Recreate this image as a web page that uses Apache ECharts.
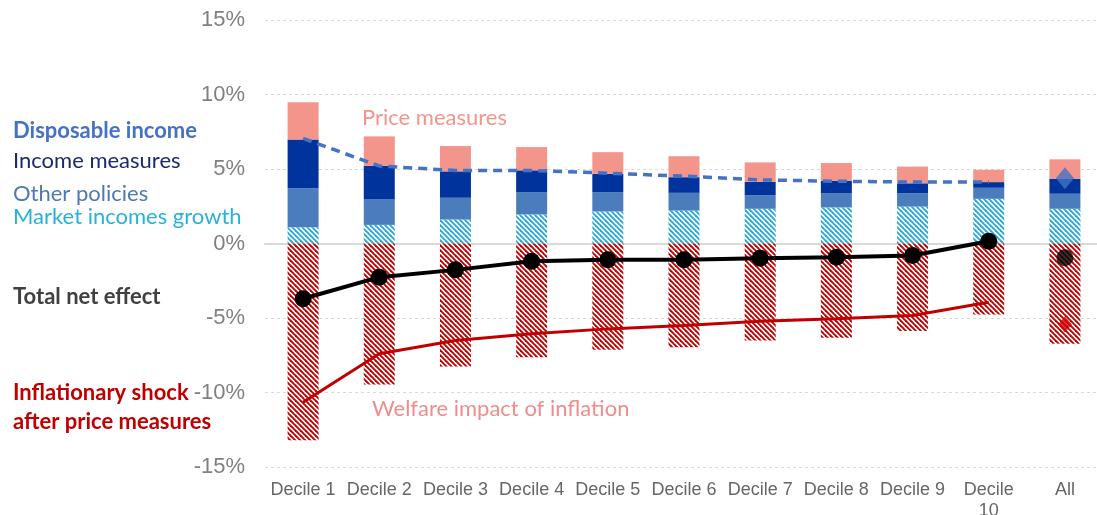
<!DOCTYPE html>
<html>
<head>
<meta charset="utf-8">
<script src="https://cdn.jsdelivr.net/npm/echarts@6/dist/echarts.min.js"></script>
<style>
html,body{margin:0;padding:0;background:#fff;}
#chart{width:1097px;height:515px;}
</style>
</head>
<body>
<div id="chart"></div>
<script>
// ---- data ----
var categories = ['Decile 1','Decile 2','Decile 3','Decile 4','Decile 5','Decile 6','Decile 7','Decile 8','Decile 9','Decile 10','All'];
var marketIncomes  = [1.09, 1.25, 1.61, 1.95, 2.15, 2.21, 2.33, 2.42, 2.48, 3.00, 2.33];
var otherPolicies  = [2.62, 1.74, 1.46, 1.50, 1.30, 1.19, 0.91, 0.94, 0.89, 0.74, 1.01];
var incomeMeasures = [3.27, 2.23, 1.77, 1.46, 1.23, 1.05, 0.90, 0.85, 0.67, 0.38, 1.01];
var priceMeasures  = [2.50, 1.97, 1.70, 1.56, 1.45, 1.41, 1.30, 1.19, 1.12, 0.83, 1.30];
var inflationShock = [-13.2, -9.46, -8.26, -7.63, -7.13, -6.96, -6.51, -6.33, -5.88, -4.77, -6.73];
var disposableIncome = [7.05, 5.20, 4.90, 4.90, 4.72, 4.52, 4.27, 4.18, 4.12, 4.12, 4.38];
var totalNetEffect   = [-3.71, -2.26, -1.77, -1.19, -1.09, -1.09, -0.99, -0.92, -0.81, 0.15, -0.96];
var welfareImpact    = [-10.65, -7.40, -6.51, -6.06, -5.73, -5.50, -5.21, -5.05, -4.83, -3.94, -5.44];
var yTicks = [-15, -10, -5, 0, 5, 10, 15];

// deciles (line) vs "All" (standalone marker)
function decilesOnly(arr){ return arr.map(function(v,i){ return i < arr.length-1 ? v : '-'; }); }
function allOnly(arr){ return arr.map(function(v,i){ return i === arr.length-1 ? v : '-'; }); }

function hatch(color){
  var s = 5, c = document.createElement('canvas');
  c.width = s; c.height = s;
  var g = c.getContext('2d');
  g.fillStyle = '#ffffff'; g.fillRect(0,0,s,s);
  g.strokeStyle = color; g.lineWidth = 1.9;
  [-s, 0, s].forEach(function(k){
    g.beginPath(); g.moveTo(k-1, -1); g.lineTo(k+s+1, s+1); g.stroke();
  });
  return {image: c, repeat: 'repeat'};
}

var chart = echarts.init(document.getElementById('chart'));
var lblFont = 'Lato, "Open Sans", sans-serif';
function txt(t, x, y, color, bold, size){
  return {type:'text', x:x, y:y, z:100, style:{text:t, fill:color, font:(bold?'bold ':'')+size+'px '+lblFont, textVerticalAlign:'middle'}};
}

var option = {
  animation: false,
  backgroundColor: '#ffffff',
  grid: {left: 265, right: -6, top: 20, bottom: 48, outerBoundsMode: 'none', containLabel: false},
  xAxis: {
    type: 'category',
    data: categories,
    axisLine: {onZero: true, lineStyle: {color: '#d9d9d9', width: 2}},
    axisTick: {show: false},
    axisLabel: {
      interval: 0, margin: 13, color: '#666666', fontSize: 18,
      fontFamily: '"Liberation Sans", Arial, sans-serif', lineHeight: 21,
      formatter: function(v){ return v === 'Decile 10' ? 'Decile\n10' : v; }
    },
    position: 'bottom'
  },
  yAxis: {
    type: 'value', min: yTicks[0], max: yTicks[yTicks.length-1], interval: 5,
    axisLine: {show: false}, axisTick: {show: false},
    axisLabel: {formatter: '{value}%', color: '#808080', fontSize: 22, margin: 20,
      fontFamily: '"Liberation Sans", Arial, sans-serif'},
    splitLine: {lineStyle: {color: '#d9d9d9', type: [3,3], width: 1}}
  },
  series: [
    {name:'Market incomes growth', type:'bar', stack:'s', barWidth:31, data: marketIncomes,
      itemStyle:{color: hatch('#2aa9d8')}},
    {name:'Other policies', type:'bar', stack:'s', data: otherPolicies, itemStyle:{color:'#4b7dbd'}},
    {name:'Income measures', type:'bar', stack:'s', data: incomeMeasures, itemStyle:{color:'#00339c'}},
    {name:'Price measures', type:'bar', stack:'s', data: priceMeasures, itemStyle:{color:'#f4958c'}},
    {name:'Inflationary shock', type:'bar', stack:'s', data: inflationShock,
      itemStyle:{color: hatch('#c00000')}},
    {name:'Disposable income', type:'line', data: decilesOnly(disposableIncome), symbol:'none', z:5,
      lineStyle:{color:'#4472c4', width:3.5, type:[9,6]}},
    {name:'Disposable income All', type:'scatter', data: allOnly(disposableIncome), symbol:'diamond',
      symbolSize:[18,22], z:6, itemStyle:{color:'#4472c4'}},
    {name:'Welfare impact', type:'line', data: decilesOnly(welfareImpact), symbol:'none', z:5,
      lineStyle:{color:'#c00000', width:3}},
    {name:'Welfare impact All', type:'scatter', data: allOnly(welfareImpact), symbol:'diamond',
      symbolSize:[14,16], z:6, itemStyle:{color:'#d00000'}},
    {name:'Total net effect', type:'line', data: decilesOnly(totalNetEffect), symbol:'circle', symbolSize:17, z:7,
      lineStyle:{color:'#000000', width:4}, itemStyle:{color:'#000000'}},
    {name:'Total net effect All', type:'scatter', data: allOnly(totalNetEffect), symbol:'circle',
      symbolSize:17, z:7, itemStyle:{color:'#000000'}}
  ],
  graphic: [
    txt('Disposable income', 13, 131, '#4472c4', true, 22),
    txt('Income measures', 13, 161, '#1b2a6e', false, 22),
    txt('Other policies', 13, 194, '#4f79b3', false, 22),
    txt('Market incomes growth', 13, 217, '#28b2da', false, 22),
    txt('Total net effect', 13, 297, '#404040', true, 22),
    txt('Inflationary shock', 13, 393, '#c00000', true, 22),
    txt('after price measures', 13, 422, '#c00000', true, 22),
    txt('Price measures', 362, 118, '#f4958c', false, 22),
    txt('Welfare impact of inflation', 372, 409, '#ef8d8d', false, 22)
  ]
};
chart.setOption(option);
</script>
</body>
</html>
